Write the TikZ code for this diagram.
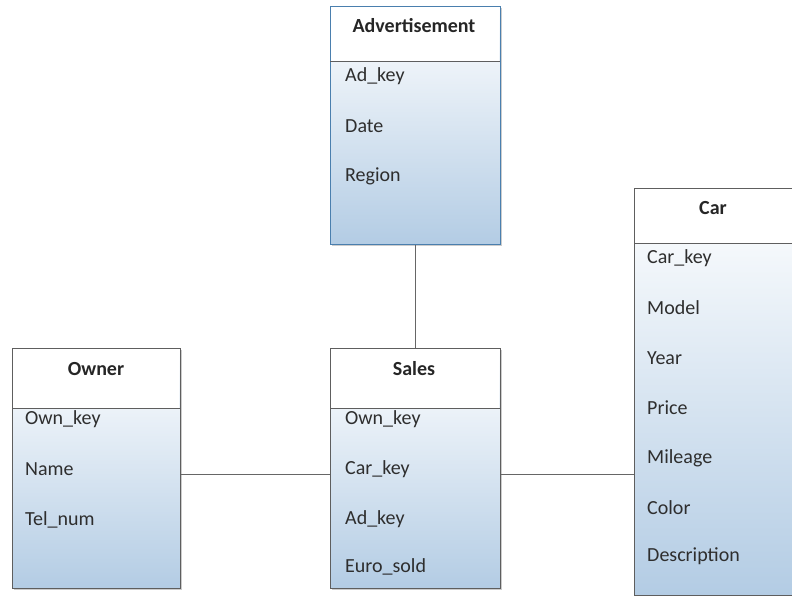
\documentclass[tikz,border=0pt]{standalone}
\usepackage{fontspec}
\setmainfont{Carlito}
\usetikzlibrary{shadows}
\definecolor{bodyblue}{HTML}{B3CCE4}
\definecolor{txt}{HTML}{2E2E2E}
\definecolor{edgegray}{HTML}{5E5E5E}
\definecolor{edgeblue}{HTML}{4A7FAE}
\begin{document}
\begin{tikzpicture}[x=1pt,y=-1pt,
  entbody/.style={draw=edgegray, line width=1.3pt, top color=white, bottom color=bodyblue,
    drop shadow={shadow xshift=1.8pt, shadow yshift=-1.8pt, opacity=0.4, fill=gray},
    anchor=north west, inner sep=0pt},
  enthead/.style={font=\fontsize{20}{24}\selectfont\bfseries, text=black!85},
  attr/.style={anchor=west, font=\fontsize{20}{24}\selectfont, text=txt, inner sep=0pt},
  divider/.style={draw=edgegray, line width=1pt},
  conn/.style={draw=gray!80!black, line width=0.9pt}]
\useasboundingbox (0,0) rectangle (792,596);

% Advertisement
\node[entbody, draw=edgeblue, minimum width=170pt, minimum height=238pt] (adv) at (330,6) {};
\fill[white] ([xshift=0.6pt,yshift=-0.6pt]adv.north west) rectangle (499.4,62);
\draw[divider] (330,62) -- (500,62);
\node[enthead] (advh) at (414,26) {Advertisement};
\node[attr] (adv1) at (345,76) {Ad\_key};
\node[attr] (adv2) at (345,126) {Date};
\node[attr] (adv3) at (345,176) {Region};

% Car
\node[entbody, minimum width=170pt, minimum height=407pt] (car) at (634,188) {};
\fill[white] ([xshift=0.6pt,yshift=-0.6pt]car.north west) rectangle (803,243);
\draw[divider] (634,243) -- (804,243);
\node[enthead] (carh) at (713,208) {Car};
\node[attr] (car1) at (647,258) {Car\_key};
\node[attr] (car2) at (647,308) {Model};
\node[attr] (car3) at (647,358) {Year};
\node[attr] (car4) at (647,408) {Price};
\node[attr] (car5) at (647,458) {Mileage};
\node[attr] (car6) at (647,508) {Color};
\node[attr] (car7) at (647,556) {Description};

% Owner
\node[entbody, minimum width=168pt, minimum height=240pt] (own) at (12,348) {};
\fill[white] ([xshift=0.6pt,yshift=-0.6pt]own.north west) rectangle (179.4,408);
\draw[divider] (12,408) -- (180,408);
\node[enthead] (ownh) at (96,369) {Owner};
\node[attr] (own1) at (25,419) {Own\_key};
\node[attr] (own2) at (25,469) {Name};
\node[attr] (own3) at (25,520) {Tel\_num};

% Sales
\node[entbody, minimum width=170pt, minimum height=240pt] (sal) at (330,348) {};
\fill[white] ([xshift=0.6pt,yshift=-0.6pt]sal.north west) rectangle (499.4,408);
\draw[divider] (330,408) -- (500,408);
\node[enthead] (salh) at (414,369) {Sales};
\node[attr] (sal1) at (345,419) {Own\_key};
\node[attr] (sal2) at (345,469) {Car\_key};
\node[attr] (sal3) at (345,519) {Ad\_key};
\node[attr] (sal4) at (345,567) {Euro\_sold};

% connectors
\draw[conn] (adv.south) -- (sal.north);
\draw[conn] (own.east |- 0,474) -- (sal.west |- 0,474);
\draw[conn] (sal.east |- 0,474) -- (car.west |- 0,474);
\end{tikzpicture}
\end{document}
